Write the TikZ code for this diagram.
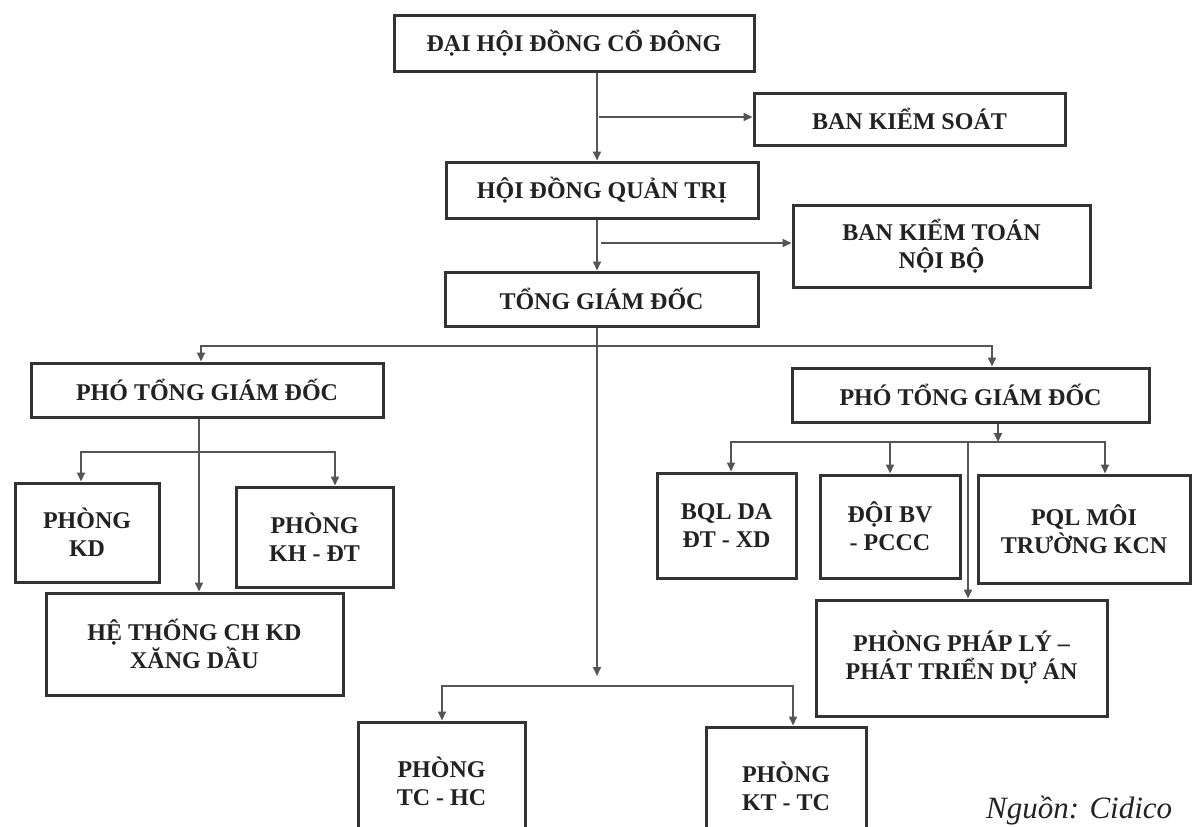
\documentclass[tikz,border=0pt]{standalone}
\usepackage{fontspec}
\setmainfont{Liberation Serif}
\usetikzlibrary{arrows.meta,calc}
\definecolor{boxline}{HTML}{333333}
\definecolor{conn}{HTML}{555555}
\definecolor{ink}{HTML}{222222}
\begin{document}
\begin{tikzpicture}[x=1pt,y=1pt,
  orgbox/.style={draw=boxline,line width=3pt,rectangle,inner sep=0pt,align=center,
    text=ink,font=\fontsize{24}{28}\selectfont\bfseries},
  conline/.style={draw=conn,line width=1.8pt},
  arr/.style={conline,-{Triangle[length=9pt,width=8pt]}},
  both/.style={conline,{Triangle[length=9pt,width=8pt]}-{Triangle[length=9pt,width=8pt]}},
  srcnote/.style={text=ink,font=\fontsize{31}{33}\selectfont\itshape,inner sep=0pt}]
\fill[white] (0,0) rectangle (1197,-827);
\useasboundingbox (0,0) rectangle (1197,-827);

% boxes
\node[orgbox,minimum width=360pt,minimum height=56pt] (dhd) at (574,-43) {ĐẠI HỘI ĐỒNG CỔ ĐÔNG};
\node[orgbox,minimum width=311pt,minimum height=52pt] (bks) at (909.5,-119) {BAN KIỂM SOÁT};
\node[orgbox,minimum width=312pt,minimum height=56pt] (hdqt) at (602,-190) {HỘI ĐỒNG QUẢN TRỊ};
\node[orgbox,minimum width=297pt,minimum height=82pt] (bkt) at (941.5,-246) {BAN KIỂM TOÁN\\NỘI BỘ};
\node[orgbox,minimum width=313pt,minimum height=54pt] (tgd) at (601.5,-299) {TỔNG GIÁM ĐỐC};
\node[orgbox,minimum width=352pt,minimum height=54pt] (ptgdL) at (207,-390) {PHÓ TỔNG GIÁM ĐỐC};
\node[orgbox,minimum width=357pt,minimum height=54pt] (ptgdR) at (970.5,-395) {PHÓ TỔNG GIÁM ĐỐC};
\node[orgbox,minimum width=144pt,minimum height=99pt] (kd) at (87,-532.5) {PHÒNG\\KD};
\node[orgbox,minimum width=157pt,minimum height=100pt] (khdt) at (314.5,-537) {PHÒNG\\KH - ĐT};
\node[orgbox,minimum width=297pt,minimum height=102pt] (htch) at (194.5,-644) {HỆ THỐNG CH KD\\XĂNG DẦU};
\node[orgbox,minimum width=139pt,minimum height=105pt] (bql) at (726.5,-525.5) {BQL DA\\ĐT - XD};
\node[orgbox,minimum width=140pt,minimum height=103pt] (doibv) at (890,-526.5) {ĐỘI BV\\- PCCC};
\node[orgbox,minimum width=212pt,minimum height=108pt] (pql) at (1084,-529) {PQL MÔI\\TRƯỜNG KCN};
\node[orgbox,minimum width=291pt,minimum height=116pt] (ppl) at (961.5,-658) {PHÒNG PHÁP LÝ –\\PHÁT TRIỂN DỰ ÁN};
\node[orgbox,minimum width=167pt,minimum height=118pt] (tchc) at (441.5,-781) {PHÒNG\\TC - HC};
\node[orgbox,minimum width=160pt,minimum height=118pt] (kttc) at (786,-786) {PHÒNG\\KT - TC};

\node[srcnote,anchor=base west] (src) at (986,-818) {Nguồn: Cidico};

% junction coordinates
\coordinate (xa) at (597,0);
\coordinate (j1) at (599,-117);
\coordinate (j2) at (601,-243);
\coordinate (m1) at (597,-676);
\coordinate (hL) at (442,-686);
\coordinate (hR) at (793,-686);
\coordinate (t1) at (201,-346);
\coordinate (t2) at (992,-346);
\coordinate (xl) at (199,0);
\coordinate (l1) at (81,-452);
\coordinate (l2) at (335,-452);
\coordinate (r0) at (998,-442);
\coordinate (r1) at (731,-442);
\coordinate (r2) at (890,-442);
\coordinate (r3) at (1105,-442);
\coordinate (r4) at (968,-442);

% connectors
\draw[arr] (dhd.south -| xa) -- (hdqt.north -| xa);
\draw[arr] (j1) -- (j1 -| bks.west);
\draw[arr] (hdqt.south -| xa) -- (tgd.north -| xa);
\draw[arr] (j2) -- (j2 -| bkt.west);
\draw[arr] (tgd.south -| xa) -- (m1);
\draw[both] (tchc.north -| hL) -- (hL) -- (hR) -- (kttc.north -| hR);
\draw[both] (ptgdL.north -| t1) -- (t1) -- (t2) -- (ptgdR.north -| t2);
\draw[arr] (ptgdL.south -| xl) -- (htch.north -| xl);
\draw[both] (kd.north -| l1) -- (l1) -- (l2) -- (khdt.north -| l2);
\draw[arr] (ptgdR.south -| r0) -- (r0);
\draw[both] (bql.north -| r1) -- (r1) -- (r3) -- (pql.north -| r3);
\draw[arr] (r2) -- (doibv.north -| r2);
\draw[arr] (r4) -- (ppl.north -| r4);
\end{tikzpicture}
\end{document}
